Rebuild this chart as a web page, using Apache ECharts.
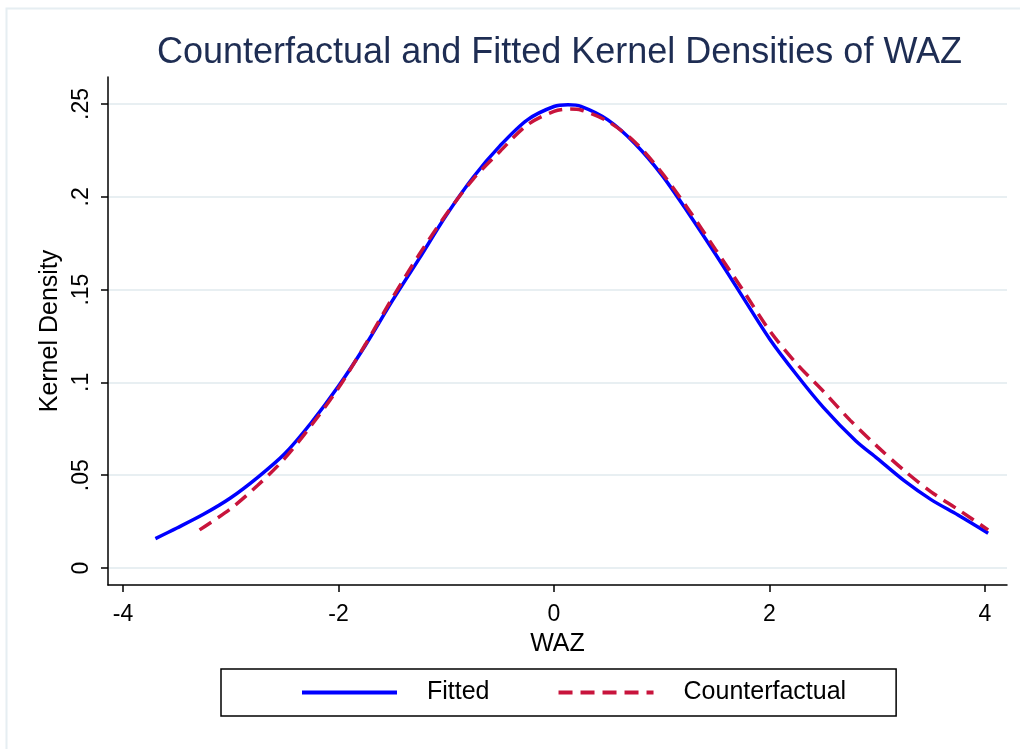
<!DOCTYPE html>
<html>
<head>
<meta charset="utf-8">
<title>Counterfactual and Fitted Kernel Densities of WAZ</title>
<script src="https://cdn.jsdelivr.net/npm/echarts@6/dist/echarts.min.js"></script>
<style>
  html, body { margin: 0; padding: 0; background: #fff; }
  #chart { width: 1020px; height: 749px; }
</style>
</head>
<body>
<div id="chart"></div>
<script>
// values
const fittedX = [-3.70, -3.50, -3.25, -3.00, -2.75, -2.50, -2.25, -2.00, -1.75, -1.50, -1.25, -1.00, -0.75, -0.50, -0.25, 0.00, 0.13, 0.25, 0.50, 0.75, 1.00, 1.25, 1.50, 1.75, 2.00, 2.25, 2.50, 2.80, 3.00, 3.25, 3.50, 3.75, 4.03]
const fittedY = [0.0158, 0.0215, 0.0290, 0.0378, 0.0488, 0.0615, 0.0785, 0.0980, 0.1200, 0.1440, 0.1668, 0.1900, 0.2105, 0.2275, 0.2413, 0.2486, 0.2495, 0.2487, 0.2414, 0.2287, 0.2118, 0.1910, 0.1690, 0.1462, 0.1235, 0.1042, 0.0865, 0.0685, 0.0590, 0.0470, 0.0368, 0.0285, 0.0187]

const counterX = [-3.29, -3.00, -2.75, -2.50, -2.25, -2.00, -1.75, -1.50, -1.25, -1.00, -0.75, -0.50, -0.25, 0.00, 0.15, 0.25, 0.50, 0.75, 1.00, 1.25, 1.50, 1.75, 2.00, 2.25, 2.50, 2.75, 3.00, 3.25, 3.50, 3.75, 4.03]
const counterY = [0.0205, 0.0320, 0.0445, 0.0590, 0.0770, 0.0970, 0.1205, 0.1455, 0.1690, 0.1905, 0.2095, 0.2245, 0.2386, 0.2460, 0.2472, 0.2467, 0.2406, 0.2295, 0.2130, 0.1930, 0.1715, 0.1500, 0.1280, 0.1102, 0.0952, 0.0795, 0.0655, 0.0525, 0.0410, 0.0315, 0.0205]

const xTicks = [-4, -2, 0, 2, 4]
const yTickLabels = ['0', '.05', '.1', '.15', '.2', '.25']

const FONT = '"Liberation Sans", Arial, sans-serif'

const zip = (xs, ys) => xs.map((x, i) => [x, ys[i]])

const option = {
  backgroundColor: '#fff',
  animation: false,
  textStyle: { fontFamily: FONT },
  graphic: [{
    type: 'rect',
    left: 4,
    top: 6,
    shape: { width: 1030, height: 760 },
    style: { fill: 'none', stroke: '#e6eef2', lineWidth: 2 },
    silent: true
  }],
  title: {
    text: 'Counterfactual and Fitted Kernel Densities of WAZ',
    left: 152,
    top: 30,
    textStyle: {
      color: '#1e2d53',
      fontSize: 36,
      fontWeight: 'normal',
      fontFamily: FONT
    }
  },
  legend: {
    left: 221,
    top: 669,
    orient: 'horizontal',
    padding: [11, 50, 11, 79],
    borderColor: '#000',
    borderWidth: 1.5,
    itemWidth: 95,
    itemHeight: 14,
    itemGap: 67,
    itemStyle: { opacity: 0 },
    lineStyle: { width: 4 },
    formatter: name => '{p|' + name + '}',
    textStyle: {
      color: '#000',
      fontSize: 25,
      fontFamily: FONT,
      rich: { p: { padding: [0, 0, 0, 25], fontSize: 25, fontFamily: FONT, color: '#000' } }
    },
    data: ['Fitted', 'Counterfactual']
  },
  grid: [
    // data grid, full plot region
    { left: 108, top: 77, width: 899, height: 508 },
    // y ticks / grid lines
    { left: 108, top: 104, width: 899, height: 464 },
    // x ticks
    { left: 123, top: 77, width: 862, height: 508 }
  ],
  xAxis: [{
    gridIndex: 0,
    type: 'value',
    min: -4.14,
    max: 4.205,
    axisLine: { show: true, onZero: false, lineStyle: { color: '#000', width: 1.5 } },
    axisTick: { show: false },
    axisLabel: { show: false },
    splitLine: { show: false },
    name: 'WAZ',
    nameLocation: 'middle',
    nameGap: 47,
    nameTextStyle: { color: '#000', fontSize: 25, fontFamily: FONT }
  }, {
    gridIndex: 1,
    type: 'value',
    show: false
  }, {
    gridIndex: 2,
    type: 'value',
    min: xTicks[0],
    max: xTicks[xTicks.length - 1],
    interval: 2,
    axisLine: { show: false, onZero: false },
    axisTick: { show: true, inside: false, length: 7, lineStyle: { color: '#000', width: 1.5 } },
    axisLabel: { color: '#000', fontSize: 23, margin: 18, fontFamily: FONT },
    splitLine: { show: false }
  }],
  yAxis: [{
    gridIndex: 0,
    type: 'value',
    min: -0.0092,
    max: 0.2645,
    axisLine: { show: true, onZero: false, lineStyle: { color: '#000', width: 1.5 } },
    axisTick: { show: false },
    axisLabel: { show: false },
    splitLine: { show: false },
    name: 'Kernel Density',
    nameLocation: 'middle',
    nameGap: 45,
    nameTextStyle: { color: '#000', fontSize: 25, fontFamily: FONT }
  }, {
    gridIndex: 1,
    type: 'value',
    min: 0,
    max: 0.25,
    interval: 0.05,
    axisLine: { show: false, onZero: false },
    axisTick: { show: true, inside: false, length: 7, lineStyle: { color: '#000', width: 1.5 } },
    axisLabel: {
      color: '#000',
      fontSize: 23,
      rotate: 90,
      margin: 15,
      fontFamily: FONT,
      formatter: v => yTickLabels[Math.round(v / 0.05)]
    },
    splitLine: { show: true, lineStyle: { color: '#e8eff2', width: 2 } }
  }, {
    gridIndex: 2,
    type: 'value',
    show: false
  }],
  series: [{
    name: 'Fitted',
    type: 'line',
    xAxisIndex: 0,
    yAxisIndex: 0,
    smooth: 0.3,
    showSymbol: false,
    symbol: 'none',
    lineStyle: { color: '#0000ff', width: 3.5 },
    itemStyle: { color: '#0000ff' },
    data: zip(fittedX, fittedY),
    z: 3
  }, {
    name: 'Counterfactual',
    type: 'line',
    xAxisIndex: 0,
    yAxisIndex: 0,
    smooth: 0.3,
    showSymbol: false,
    symbol: 'none',
    lineStyle: { color: '#c8143c', width: 3.5, type: [14, 8] },
    itemStyle: { color: '#c8143c' },
    data: zip(counterX, counterY),
    z: 4
  }]
}

const chart = echarts.init(document.getElementById('chart'), null, { renderer: 'canvas' })
chart.setOption(option)
</script>
</body>
</html>
